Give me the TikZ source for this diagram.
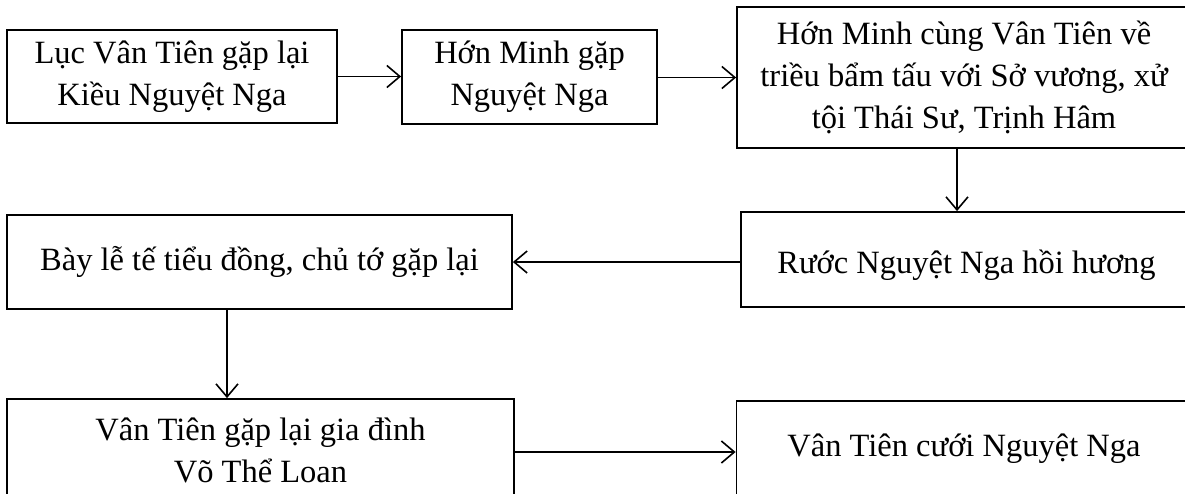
\documentclass[tikz,border=0pt]{standalone}
\usepackage{fontspec}
\setmainfont{Liberation Serif}
\usetikzlibrary{arrows.meta}
\begin{document}
\begin{tikzpicture}[x=1pt,y=-1pt,
  box/.style={draw, line width=1.8pt, rectangle, inner sep=0pt, align=center,
    font=\fontsize{32.5}{42}\selectfont},
  conn/.style={line width=1.6pt, -{Straight Barb[length=13pt,width=22pt,line width=1.6pt]}}]
\useasboundingbox (0,0) rectangle (1185,493);
\clip (0,0) rectangle (1185,493);
\node[box, minimum width=330pt, minimum height=93pt] (A) at (172,76.5) {Lục Vân Tiên gặp lại\\Kiều Nguyệt Nga};
\node[box, minimum width=255pt, minimum height=94pt] (B) at (529.5,77) {Hớn Minh gặp\\Nguyệt Nga};
\node[box, minimum width=454pt, minimum height=141pt] (C) at (964,77.5) {Hớn Minh cùng Vân Tiên về\\triều bẩm tấu với Sở vương, xử\\tội Thái Sư, Trịnh Hâm};
\node[box, minimum width=451pt, minimum height=95pt, text height=35pt, text depth=8pt] (D) at (966.5,259.5) {Rước Nguyệt Nga hồi hương};
\node[box, minimum width=505pt, minimum height=94pt] (E) at (259.5,262) {Bày lễ tế tiểu đồng, chủ tớ gặp lại};
\node[box, minimum width=507pt, minimum height=102pt] (F) at (260.5,450) {Vân Tiên gặp lại gia đình\\Võ Thể Loan};
\node[box, minimum width=455pt, minimum height=104pt, text depth=16pt] (G) at (964,453) {Vân Tiên cưới Nguyệt Nga};
\draw[conn] (A.east) -- (A.east -| B.west);
\draw[conn] (B.east |- C.west) -- (C.west);
\draw[conn] ([xshift=-7pt]C.south) -- ([xshift=-7pt]C.south |- D.north);
\draw[conn] (D.west |- E.east) -- (E.east);
\draw[conn] ([xshift=-32.5pt]E.south) -- ([xshift=-32.5pt]E.south |- F.north);
\draw[conn] ([yshift=-2pt]F.east) -- ([yshift=-2pt]F.east -| G.west);
\end{tikzpicture}
\end{document}
